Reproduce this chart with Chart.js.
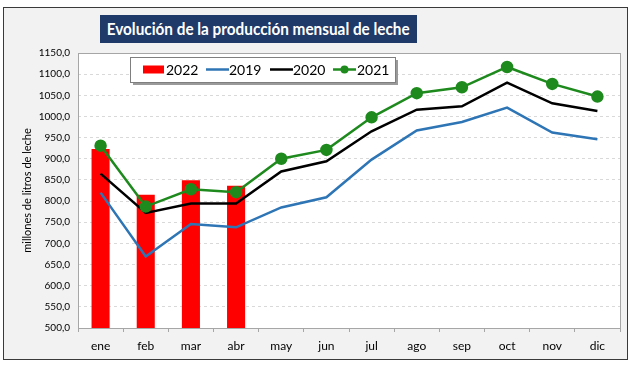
<!DOCTYPE html>
<html>
<head>
<meta charset="utf-8">
<script src="https://cdn.jsdelivr.net/npm/chart.js@4/dist/chart.umd.min.js"></script>
<style>
  html, body { margin: 0; padding: 0; background: #fff; }
  #wrap { position: relative; width: 640px; height: 370px; overflow: hidden; }
  #frame { position: absolute; left: 3px; top: 7px; width: 625px; height: 353px; border: 1.5px solid #3a3a3a; background: #f2f2f2; box-sizing: border-box; }
  #c { position: absolute; left: 0; top: 0; }
  #title { position: absolute; left: 100px; top: 15px; width: 317px; height: 28px; background: #1f3a68;
    color: #fff; font: bold 17px Lato, "Open Sans", sans-serif; line-height: 28px; white-space: nowrap;
    display: flex; justify-content: center; }
  #title span { display: inline-block; flex: none; transform-origin: center; }
</style>
</head>
<body>
<div id="wrap">
  <div id="frame"></div>
  <canvas id="c" width="640" height="370"></canvas>
  <div id="title"><span>Evolución de la producción mensual de leche</span></div>
</div>
<script>
const meses = ["ene", "feb", "mar", "abr", "may", "jun", "jul", "ago", "sep", "oct", "nov", "dic"];
const prod2022 = [923, 815, 849, 836];
const prod2019 = [820, 669, 746, 738, 785, 809, 898, 967, 987, 1021, 962, 946];
const prod2020 = [865, 772, 794, 794, 870, 894, 965, 1016, 1024, 1080, 1031, 1013];
const prod2021 = [931, 787, 828, 821, 900, 921, 998, 1055, 1069, 1117, 1077, 1047];
const yMin = 500, yMax = 1150, yStep = 50;

const FONT = "Lato, 'Open Sans', sans-serif";

// squeeze the title to the width it has in the picture
const tspan = document.querySelector("#title span");
const tw = tspan.getBoundingClientRect().width;
if (tw > 303) tspan.style.transform = `scaleX(${303 / tw})`;

const plotBox = {
  id: "plotBox",
  beforeDraw(chart) {
    const { ctx, chartArea: a } = chart;
    ctx.save();
    ctx.fillStyle = "#fff";
    ctx.fillRect(a.left, a.top, a.right - a.left, a.bottom - a.top);
    ctx.restore();
  },
  afterDraw(chart) {
    const { ctx, chartArea: a } = chart;
    ctx.save();
    ctx.strokeStyle = "#a6a6a6";
    ctx.lineWidth = 1;
    ctx.strokeRect(a.left + 0.5, a.top + 0.5, a.right - a.left, a.bottom - a.top);
    ctx.restore();
  },
};

const legendBox = {
  id: "legendBox",
  afterDraw(chart) {
    const { ctx } = chart;
    const ds = chart.data.datasets;
    const x0 = 130, y0 = 57, w = 265, h = 25, cy = y0 + h / 2;
    ctx.save();
    ctx.fillStyle = "#9a9a9a";
    ctx.fillRect(x0 + 3, y0 + 3, w, h);
    ctx.fillStyle = "#fff";
    ctx.fillRect(x0, y0, w, h);
    ctx.strokeStyle = "#7f7f7f";
    ctx.lineWidth = 1;
    ctx.strokeRect(x0 + 0.5, y0 + 0.5, w, h);
    ctx.font = "14px " + FONT;
    ctx.textBaseline = "middle";
    const items = [
      { ds: ds[0], sx: 143, tx: 166 },
      { ds: ds[1], sx: 206, tx: 229 },
      { ds: ds[2], sx: 270, tx: 293 },
      { ds: ds[3], sx: 333, tx: 357 },
    ];
    items.forEach((it) => {
      const d = it.ds;
      if (d.type === "bar") {
        ctx.fillStyle = d.backgroundColor;
        ctx.fillRect(it.sx, cy - 4, 21, 8);
      } else {
        ctx.strokeStyle = d.borderColor;
        ctx.lineWidth = 2.5;
        ctx.beginPath();
        ctx.moveTo(it.sx, cy);
        ctx.lineTo(it.sx + 23, cy);
        ctx.stroke();
        if (d.pointRadius > 0) {
          ctx.fillStyle = d.pointBackgroundColor;
          ctx.beginPath();
          ctx.arc(it.sx + 11.5, cy, 4, 0, Math.PI * 2);
          ctx.fill();
        }
      }
      ctx.fillStyle = "#000";
      ctx.fillText(d.label, it.tx, cy + 1);
    });
    ctx.restore();
  },
};

new Chart(document.getElementById("c"), {
  data: {
    labels: meses,
    datasets: [
      { type: "bar", label: "2022", data: prod2022, backgroundColor: "#ff0000", borderWidth: 0,
        barPercentage: 0.4, categoryPercentage: 1, order: 4 },
      { type: "line", label: "2019", data: prod2019, borderColor: "#2e75b6", borderWidth: 2.5,
        pointRadius: 0, tension: 0, order: 3 },
      { type: "line", label: "2020", data: prod2020, borderColor: "#000", borderWidth: 2.5,
        pointRadius: 0, tension: 0, order: 2 },
      { type: "line", label: "2021", data: prod2021, borderColor: "#1e8a1e", borderWidth: 2.5,
        pointRadius: 5, pointBackgroundColor: "#1e8a1e", pointBorderColor: "#1e8a1e", tension: 0, order: 1 },
    ],
  },
  options: {
    responsive: false,
    animation: false,
    layout: { padding: { left: 0, right: 20, top: 53, bottom: 12 } },
    plugins: { legend: { display: false }, tooltip: { enabled: false } },
    scales: {
      x: {
        offset: true,
        grid: { offset: true, drawOnChartArea: false, drawTicks: true, tickLength: 4, color: "#a6a6a6" },
        border: { display: false },
        ticks: { color: "#000", font: { family: FONT, size: 12 }, padding: 7, maxRotation: 0 },
        afterFit: (s) => { s.height = 30; },
      },
      y: {
        min: yMin, max: yMax,
        grid: { color: "#d9d9d9", drawTicks: false },
        border: { display: false, dash: [3, 3] },
        ticks: { stepSize: yStep, padding: 8, color: "#000", font: { family: FONT, size: 10 },
          callback: (v) => v.toFixed(1).replace(".", ",") },
        title: { display: true, text: "millones de litros de leche", color: "#000",
          font: { family: FONT, size: 11 }, padding: { top: 21, bottom: 0 } },
        afterFit: (s) => { s.width = 78; },
      },
    },
  },
  plugins: [plotBox, legendBox],
});
</script>
</body>
</html>
